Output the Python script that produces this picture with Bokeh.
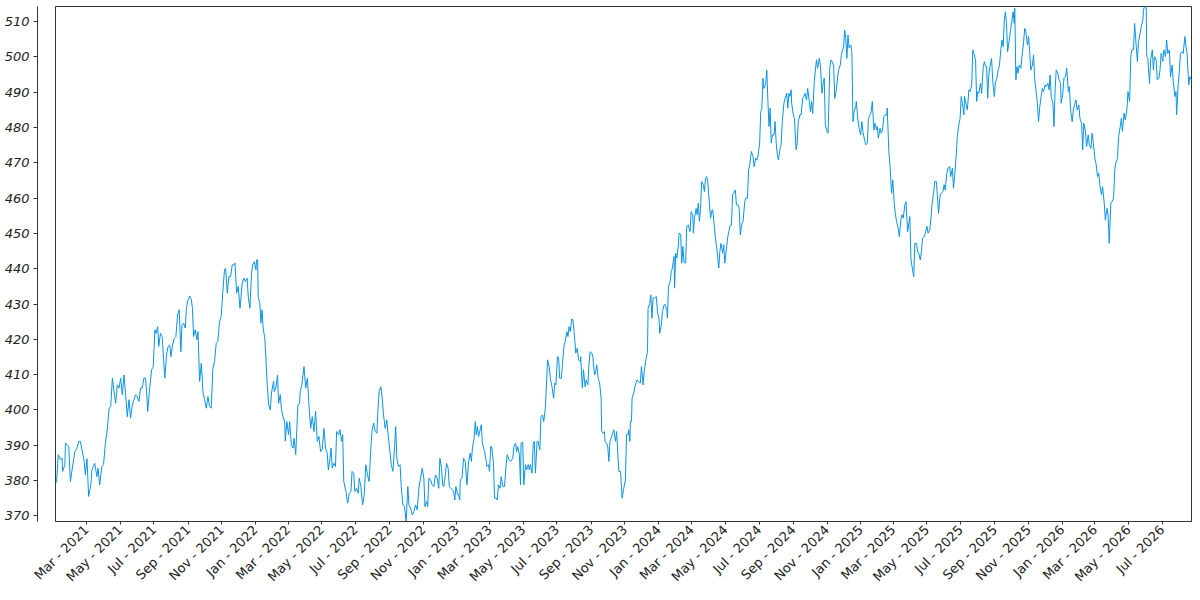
from math import pi
import pandas as pd
from bokeh.plotting import figure
from bokeh.models import (ColumnDataSource, LinearAxis, SingleIntervalTicker, FixedTicker,
                          MonthsTicker, DatetimeTickFormatter, DataRange1d)
from bokeh.embed import file_html
from bokeh.resources import INLINE

START = "2021-01-04"

DAYS = [0, 2, 5, 9, 12, 13, 17, 18, 21, 24, 27, 30, 35, 39, 42, 45, 48, 52, 54, 57, 60, 64, 66, 71, 75, 77, 80, 84, 87, 90,
        94, 97, 100, 103, 106, 109, 112, 115, 118, 121, 124, 127, 130, 133, 136, 139, 142, 145, 148, 151, 154, 157, 160, 163,
        165, 167, 170, 174, 177, 180, 182, 185, 187, 190, 193, 196, 198, 201, 204, 207, 209, 212, 215, 218, 221, 224, 227, 229,
        232, 235, 237, 240, 243, 246, 248, 250, 253, 256, 258, 261, 264, 267, 270, 273, 276, 279, 282, 285, 288, 291, 294, 297,
        300, 303, 306, 308, 311, 314, 317, 320, 323, 325, 328, 331, 334, 335, 338, 341, 344,
        347, 349, 352, 355, 357, 360, 363, 364, 366, 367, 370, 372, 374, 376, 379, 381, 383, 386, 389, 391, 395, 396, 399, 402,
        404, 407, 409, 411, 415, 416, 419, 422, 424, 427, 430, 432, 435, 437, 439, 442, 443, 446, 450, 453, 456, 459, 462, 465,
        468, 471, 474, 477, 480, 483, 486, 489, 492, 494, 497, 499, 501, 504, 507, 509, 513, 515, 518, 520, 522, 526, 529, 532,
        535, 537, 540, 542, 545, 548, 550, 553, 556, 559, 562, 565, 568, 571, 573, 576, 579, 582, 584, 586, 589, 591, 594, 597,
        600, 602, 605, 608, 611, 614, 616, 618, 621, 624, 626, 629, 632, 635, 638, 640, 643, 646, 649, 652, 655, 658, 661, 664,
        667, 669, 672, 674, 676, 679, 682, 685, 688,
        691, 694, 696, 699, 701, 703, 706, 708, 711, 713, 716, 718, 721, 723, 725, 728, 730, 732, 733, 736, 739, 742, 745, 748,
        751, 753, 755, 758, 760, 762, 764, 766, 769, 771, 773, 777, 780, 781, 784, 786, 788, 790, 793, 795, 798, 800, 802, 805,
        807, 810, 813, 816, 818, 821, 824, 828, 830, 833, 835, 837, 840, 842, 843, 846, 848, 851, 853, 856, 858, 860, 863, 865,
        867, 869, 872, 874, 877, 879, 882, 884, 887, 889, 891, 894, 896, 899, 902, 904, 906, 909, 911, 913, 916, 918, 921, 923,
        926, 928, 930, 932, 935, 937, 939, 941, 942, 945, 947, 950, 951, 954, 956, 959, 961, 964, 966, 968, 971, 973, 976, 978,
        980, 983, 985, 988, 989, 992, 994, 995, 998, 1000, 1002, 1004, 1006, 1009, 1011, 1014, 1016, 1018, 1020, 1023, 1024,
        1026, 1029, 1032,
        1034, 1037, 1038, 1040, 1041, 1043, 1044, 1047, 1050, 1053, 1056, 1059, 1061, 1064, 1066, 1069, 1072, 1073, 1076, 1078,
        1080, 1082, 1085, 1088, 1090, 1093, 1094, 1097, 1099, 1102, 1104, 1107, 1108, 1110, 1113, 1115, 1117, 1120, 1121, 1123,
        1125, 1128, 1129, 1132, 1134, 1136, 1138, 1141, 1143, 1146, 1149, 1151, 1154, 1155, 1157, 1160, 1162, 1164, 1166, 1168,
        1170, 1173, 1175, 1177, 1179, 1181, 1184, 1186, 1189, 1190, 1193, 1195, 1198, 1201, 1203, 1205, 1208, 1210, 1212, 1215,
        1217, 1219, 1222, 1224, 1226, 1228, 1231, 1233, 1236, 1238, 1240, 1243, 1245, 1248, 1250, 1253, 1255, 1257, 1260, 1263,
        1265, 1268, 1270, 1272, 1275, 1277, 1279, 1281, 1283, 1286, 1288, 1290, 1292, 1294, 1296, 1298, 1301, 1303, 1305, 1307,
        1309, 1312, 1314, 1316, 1319, 1321, 1324, 1326, 1328, 1330, 1332, 1333, 1336, 1338, 1341, 1343, 1345, 1348, 1350, 1353,
        1355, 1357, 1360, 1362, 1365, 1367, 1369, 1371, 1374, 1376, 1378, 1380, 1383, 1385, 1388, 1390, 1392, 1394, 1397, 1399,
        1402, 1404, 1406, 1409, 1411, 1414, 1416, 1418, 1421, 1423, 1425, 1427, 1429, 1431, 1433, 1435, 1437, 1440, 1442, 1444,
        1446, 1449, 1450, 1453, 1455, 1458, 1460, 1462, 1465, 1467, 1470, 1472, 1475, 1477, 1479, 1482, 1484, 1487, 1488, 1490,
        1493, 1495, 1497, 1500, 1502, 1505, 1506, 1509, 1511, 1514, 1516, 1519, 1521, 1523, 1526, 1528, 1531, 1533, 1535, 1538,
        1540, 1543,
        1547, 1549, 1551, 1554, 1556, 1559, 1561, 1563, 1566, 1568, 1570, 1573, 1575, 1578, 1580, 1583, 1585, 1587, 1590, 1592,
        1595, 1597, 1599, 1602, 1604, 1607, 1609, 1611, 1614, 1616, 1619, 1621, 1624, 1626, 1628, 1631, 1633, 1636, 1638, 1640,
        1642, 1645, 1646, 1649, 1651, 1654, 1656, 1659, 1661, 1663, 1666, 1668, 1670, 1672, 1675, 1677, 1680, 1682, 1684, 1686,
        1688, 1690, 1692, 1695, 1697, 1700, 1702, 1704, 1707, 1709, 1712, 1714, 1716, 1718, 1720, 1722, 1724, 1727, 1729, 1732,
        1734, 1736, 1737, 1739, 1741, 1743, 1745, 1748, 1750, 1753, 1755, 1757, 1760, 1762, 1764, 1766, 1769, 1771, 1773, 1776,
        1778, 1780, 1782, 1785, 1787, 1789, 1792, 1794, 1797, 1799, 1801, 1803, 1806, 1808, 1810, 1812, 1815, 1817, 1820, 1821,
        1824, 1826, 1829, 1831, 1834, 1836, 1838, 1841, 1843, 1846, 1848, 1850, 1853, 1855, 1858, 1860, 1862, 1865, 1867, 1870,
        1872, 1875, 1877, 1879, 1882, 1884, 1887, 1889, 1891, 1894, 1896, 1899, 1901, 1904, 1906, 1908, 1911, 1913, 1916, 1918,
        1920, 1923, 1925, 1928, 1930, 1932, 1935, 1937, 1940, 1942, 1945, 1947, 1949, 1952, 1954, 1957, 1959, 1961, 1964, 1966,
        1969, 1970, 1972, 1975, 1976, 1978, 1981, 1983, 1986, 1988, 1990, 1993, 1995, 1998, 2000, 2002, 2005, 2007, 2010, 2012,
        2014, 2017, 2019, 2022, 2024, 2027, 2029, 2030, 2033, 2035, 2037, 2040, 2042, 2045, 2047, 2049, 2052, 2054, 2057]

VALUES = [379.2, 379.7, 387.3, 385.9, 386.3, 382.6, 384.5, 390.6, 390.1, 389.6, 379.7, 383.0, 388.2, 389.2, 391.1, 391.1,
          388.7, 385.4, 381.6, 386.2, 375.5, 378.8, 383.0, 384.9, 381.1, 383.5, 378.8, 384.0, 384.5, 390.1,
          394.8, 400.5, 401.0, 409.0, 405.2, 401.9, 407.1, 406.2, 409.0, 404.3, 409.9, 404.3, 398.1, 402.9, 397.7, 401.4,
          402.9, 404.3, 403.8, 402.4, 406.2, 406.2, 409.0, 409.0,
          405.2, 399.6, 405.2, 411.4, 412.3, 422.7, 421.7, 423.6, 418.0, 421.7, 420.8, 413.7, 409.0, 415.6, 418.0, 418.4,
          415.1, 418.4, 420.3, 420.8, 426.9, 428.4, 416.5, 424.1,
          424.6, 423.2, 428.8, 431.2, 432.3, 431.2, 428.8, 420.8, 422.7, 419.9, 422.2, 408.1, 413.2, 405.2, 402.9, 400.5,
          403.8, 401.0, 400.5, 411.8, 413.7, 418.9, 419.4, 425.0,
          426.5, 433.5, 439.7, 440.1, 433.1, 437.8, 437.8, 441.1, 441.1, 441.6, 433.1, 435.0, 428.8, 430.2, 435.9, 437.3, 436.4,
          437.3, 432.1, 428.8, 438.7, 441.1, 442.0, 439.7, 442.5, 442.5, 432.1, 430.2, 424.6, 428.4, 423.2, 420.3, 414.7,
          408.1, 401.4, 400.0, 404.8, 408.1, 405.2, 406.2, 409.9,
          401.9, 404.3, 400.5, 398.6, 396.7, 391.2, 396.7, 393.0, 396.7, 390.1, 389.2, 392.0, 387.3, 394.8, 401.4, 401.9,
          405.2, 407.1, 412.3, 406.2, 409.0, 401.4, 394.8, 398.1,
          393.9, 399.6, 391.1, 392.5, 388.2, 388.7, 394.8, 389.2, 387.8, 383.0, 386.3, 389.2, 383.5, 384.9, 384.0, 393.9,
          393.0, 394.4, 391.1, 393.0, 379.7, 376.9, 373.6, 376.4,
          376.9, 382.6, 382.1, 376.9, 377.8, 376.4, 380.7, 378.3, 373.1, 376.0, 384.5, 381.6, 379.7, 389.2, 393.9, 396.3,
          393.9, 393.4, 400.5, 405.2, 406.6, 404.3, 398.6, 394.8,
          397.2, 393.4, 389.2, 384.5, 382.6, 389.6, 395.3, 386.3, 384.0, 384.5, 378.3, 373.1, 372.6, 368.4, 378.3, 373.1,
          372.2, 370.3, 371.2, 373.1, 371.7, 377.8, 380.7, 383.5,
          380.7, 372.6, 374.1, 372.6, 380.7, 380.2, 378.8, 378.3, 381.6,
          380.7, 377.8, 386.3, 383.5, 378.8, 378.3, 381.6, 384.9, 383.5, 378.3, 377.8, 377.4, 376.9, 374.5, 378.3, 376.0,
          376.0, 374.5, 380.2, 380.7, 386.3, 385.4, 378.8, 385.4,
          387.8, 385.4, 389.2, 392.0, 396.7, 393.0, 395.3, 392.5, 394.4, 395.8, 390.6, 388.2, 385.4, 384.0, 384.5, 382.6,
          389.6, 389.6, 384.9, 375.0, 375.0, 374.5, 378.8, 377.8,
          381.1, 378.3, 378.3, 384.5, 387.3, 385.9, 385.4, 386.3, 389.6, 390.6, 388.2, 389.6, 387.3, 378.8, 390.6, 390.9,
          378.8, 384.5, 383.0, 384.5, 383.0, 384.5, 382.1, 390.6,
          391.1, 382.1, 391.1, 391.1, 388.7, 398.1, 398.6, 396.7, 400.5, 407.1, 414.2, 412.3, 409.0, 406.6, 403.3, 407.6,
          407.1, 415.1, 414.7, 409.0, 409.0, 413.2, 418.4, 419.4,
          422.2, 420.8, 423.6, 422.2, 425.8, 425.5, 422.2, 418.4, 416.1, 417.5, 414.2, 413.7, 415.1, 406.2, 411.4, 406.6,
          408.5, 407.1, 412.8, 416.5, 416.1, 415.1, 409.9, 410.9,
          412.8, 408.5, 408.1, 403.3, 393.9, 393.4, 393.9, 391.1, 390.6, 389.6, 385.4, 391.1, 392.0, 393.4, 394.4, 391.1,
          393.9, 388.2, 382.6, 382.6, 380.2,
          375.0, 377.8, 380.2,
          393.0, 393.0, 394.4, 391.1, 396.7, 396.7, 403.3, 404.8, 407.1, 408.5, 408.1, 407.6, 412.3, 407.1, 410.9, 414.2,
          416.6, 428.8, 430.2, 432.6,
          426.0, 431.7, 431.7, 432.1, 427.9, 425.5, 421.7, 424.1, 427.9, 429.8, 429.8, 428.4, 426.0, 435.0, 436.4, 439.2,
          440.2, 443.5, 434.5, 444.4,
          443.0, 446.8, 450.1, 449.8, 441.6, 446.3, 442.0, 441.6, 452.0, 452.4, 450.5, 456.2, 455.3, 450.1, 454.3, 457.1,
          455.3, 458.6, 453.4, 457.1,
          464.7, 463.8, 461.9, 465.6, 466.1, 464.7, 458.6, 454.3, 456.7, 456.7, 452.0, 448.7, 444.9, 440.2, 444.9, 447.2,
          444.4, 446.8, 441.6, 445.8,
          448.7, 450.5, 452.4, 452.4, 460.9, 461.4, 462.3, 458.1, 458.1, 457.1, 449.6, 452.9, 453.4, 459.0, 460.0, 460.0,
          468.0, 469.4, 473.2, 471.8,
          468.9, 471.3, 470.8, 471.8, 475.6, 484.5, 485.5, 494.0, 491.1, 492.5, 496.3, 487.4, 480.3, 485.5, 475.6, 477.9,
          477.9, 481.7, 475.6, 472.3,
          470.8, 474.1, 475.1, 481.7, 486.9, 488.3, 489.7, 485.5, 489.7, 488.8, 490.7, 486.9, 483.6, 482.6, 473.7, 475.6,
          481.7, 483.6, 483.6, 488.3,
          488.8, 489.7, 487.8, 491.1, 487.4, 484.5, 487.4, 484.0, 493.0, 496.3, 499.2, 496.8, 499.6, 497.7, 489.7, 492.5,
          494.0, 480.7, 478.9, 478.4,
          496.8, 499.2, 498.7, 497.7, 488.3, 490.7, 494.0, 496.3, 497.7, 500.6, 502.0, 502.6, 507.6, 505.3, 499.6, 506.2,
          502.5, 503.4, 501.5, 481.7,
          484.5, 485.9, 487.4, 482.2, 479.8, 477.9, 481.7, 478.9, 476.5, 475.1, 475.6, 482.6, 483.6, 484.5, 487.4, 479.3,
          481.2, 479.3, 480.3, 477.0,
          479.8, 478.4, 478.9, 483.1, 483.6, 483.6, 485.5, 473.2, 469.4, 461.4, 465.2, 458.1, 455.3, 453.4, 451.5, 449.1,
          454.3, 455.3, 454.3, 458.1,
          459.0, 450.5,
          454.8, 442.5, 440.6, 437.8, 447.2, 447.2, 444.9, 444.4, 442.5, 444.9, 448.7, 449.1, 450.1, 452.0, 450.1, 451.0,
          453.8, 458.1, 461.4, 464.7,
          464.7, 460.5, 455.7, 460.9, 461.4, 461.9, 463.8, 462.3, 467.1, 468.5, 468.9, 466.1, 468.5, 462.8, 466.1, 472.3,
          477.4, 481.2, 482.6, 488.8,
          486.9, 483.6, 488.8, 486.4, 485.0, 490.7, 490.2, 492.1, 502.0, 501.0, 499.2, 487.4, 490.2, 489.7, 492.5, 489.7,
          497.3, 498.7, 497.3, 497.3,
          488.3, 494.9, 497.3, 499.6, 493.5, 488.8, 493.0, 493.5, 496.3, 497.3, 502.5, 504.8, 502.9, 510.5, 512.8, 509.5,
          501.5, 504.8, 507.2, 510.5,
          512.8, 509.5, 513.8, 493.5, 497.3, 495.4, 497.7, 496.8, 500.1, 504.3, 508.1, 507.2, 503.4, 505.8, 501.5, 496.3,
          497.7, 500.6, 494.0, 489.7,
          486.9, 481.7, 485.5, 489.2, 491.1, 490.2, 492.1, 491.6, 492.5, 490.7, 494.9, 488.8, 486.9, 480.3, 490.7, 496.3,
          495.4, 493.5, 492.5, 486.9,
          489.7, 494.0, 494.4, 496.8, 490.2, 491.6, 485.0, 481.7, 485.0, 486.9, 487.8, 485.0, 486.4, 482.6, 481.2, 473.7,
          481.2, 478.9, 474.6, 477.9,
          475.1, 474.1, 478.4, 476.0, 471.3, 469.9, 466.1, 467.1, 463.8, 460.9, 463.3, 458.6, 453.8, 457.1, 455.3, 447.2,
          458.6, 459.0, 460.0, 468.0,
          469.9, 471.3, 477.4, 480.3, 482.6, 478.9, 484.1, 482.2, 485.0, 490.2, 487.4, 500.1, 502.0, 502.0, 509.5, 502.9,
          498.7, 504.3, 506.7, 508.6,
          510.5, 513.3, 514.3, 514.3, 500.1, 499.6, 492.5, 499.2, 502.0, 496.3, 500.1, 499.2, 493.5, 494.0, 496.3, 501.0,
          498.7, 502.0, 500.1, 504.8,
          501.0, 502.0, 494.4, 497.7, 493.0, 488.8, 490.2, 483.6, 492.5, 495.9, 501.0, 501.5, 501.0, 505.8, 502.9, 501.0,
          492.1, 494.4, 493.5]

LINE_COLOR = "#0a94e4"
TEXT_COLOR = "#222222"
AXIS_COLOR = "#333333"
FONT = "DejaVu Sans"
GAP_TICK = [440]

n = min(len(DAYS), len(VALUES))
dates = pd.Timestamp(START) + pd.to_timedelta(DAYS[:n], unit="D")
src = ColumnDataSource(dict(date=dates, value=VALUES[:n]))

p = figure(width=1192, height=592, x_axis_type="datetime", y_axis_location=None,
           output_backend="svg", toolbar_location=None,
           x_range=DataRange1d(range_padding=0), y_range=DataRange1d(range_padding=0),
           min_border_left=55, min_border_right=1, min_border_top=6, min_border_bottom=69)

p.grid.visible = False
p.outline_line_color = AXIS_COLOR
p.outline_line_alpha = 1.0
p.outline_line_width = 1
p.background_fill_color = "white"
p.border_fill_color = "white"

# spacer axis (inner) so that the real y axis sits 14px away from the frame
gap = LinearAxis(ticker=FixedTicker(ticks=GAP_TICK), axis_line_color=None,
                 major_tick_in=0, major_tick_out=14,
                 major_tick_line_color="white", major_tick_line_alpha=0.01,
                 major_label_standoff=0, major_label_overrides={GAP_TICK[0]: " "},
                 major_label_text_font_size="2px", major_label_text_alpha=0.01,
                 minor_tick_line_color=None)
p.add_layout(gap, "left")

yax = LinearAxis(ticker=SingleIntervalTicker(interval=10, num_minor_ticks=0))
yax.axis_line_color = AXIS_COLOR
yax.major_tick_line_color = AXIS_COLOR
yax.minor_tick_line_color = None
yax.major_tick_in = 0
yax.major_tick_out = 4
yax.major_label_standoff = 4
yax.major_label_text_font = FONT
yax.major_label_text_font_size = "13px"
yax.major_label_text_font_style = "italic"
yax.major_label_text_color = TEXT_COLOR
p.add_layout(yax, "left")

xax = p.xaxis[0]
xax.ticker = MonthsTicker(months=[0, 2, 4, 6, 8, 10])
xax.formatter = DatetimeTickFormatter(months="%b - %Y", days="%b - %Y", years="%b - %Y")
xax.major_label_orientation = pi / 4
xax.axis_line_color = AXIS_COLOR
xax.major_tick_line_color = AXIS_COLOR
xax.minor_tick_line_color = None
xax.major_tick_in = 0
xax.major_tick_out = 3
xax.major_label_standoff = 3
xax.major_label_text_font = FONT
xax.major_label_text_font_size = "13px"
xax.major_label_text_color = TEXT_COLOR

p.line("date", "value", source=src, line_color=LINE_COLOR, line_width=1)

open("out.html", "w").write(file_html(p, INLINE))
